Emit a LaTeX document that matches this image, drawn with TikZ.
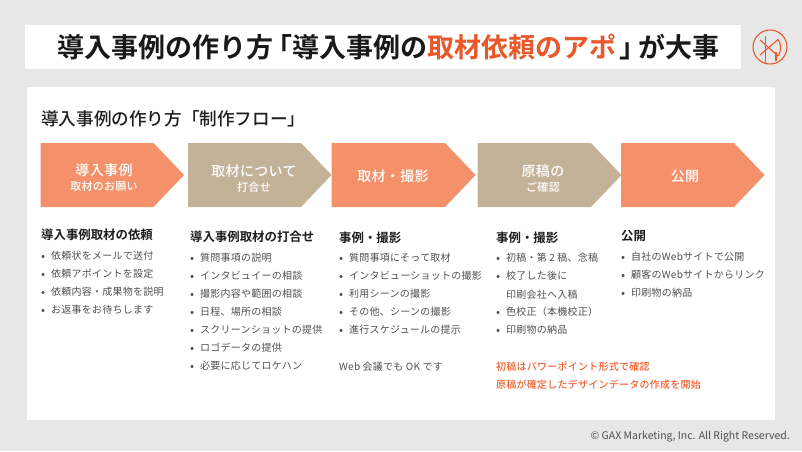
\documentclass[tikz,border=0pt]{standalone}
\usepackage{fontspec}
\setmainfont{Noto Sans CJK JP}
\newfontfamily\bodyf[LetterSpace=2.5]{Noto Sans CJK JP}
\newfontfamily\medf[LetterSpace=2.5]{Noto Sans CJK JP Medium}
\newfontfamily\medplain{Noto Sans CJK JP Medium}
\newfontfamily\headf[BoldFont=* Bold]{Noto Sans CJK JP}
\newcommand\bl{\makebox[10pt][l]{\smash{\raisebox{-0.8pt}{\fontsize{12}{12}\selectfont •}}}}
\definecolor{bgc}{HTML}{E7E7E7}
\definecolor{orA}{HTML}{F4906A}
\definecolor{tanA}{HTML}{C4B298}
\definecolor{ttlor}{HTML}{E9582A}
\definecolor{redt}{HTML}{F0622F}
\definecolor{bodyc}{HTML}{505050}
\tikzset{
  x=1pt,y=-1pt,
  txt/.style={anchor=west,inner sep=0pt,text=bodyc,font=\bodyf\fontsize{10}{12}\selectfont},
  hd/.style={anchor=west,inner sep=0pt,text=black!88,font=\headf\bfseries\fontsize{12.4}{14}\selectfont},
  red/.style={anchor=west,inner sep=0pt,text=redt,font=\medf\fontsize{10}{12}\selectfont},
  big/.style={inner sep=0pt,text=white,font=\medf\fontsize{14}{16}\selectfont},
  small/.style={inner sep=0pt,text=white,font=\medf\fontsize{11}{12}\selectfont},
  logo/.style={draw=ttlor,line width=1.1pt},
}
\newcommand\arrowbox[3]{\fill[#3] (#1,143) -- (#2,143) -- ({#2+30.5},175) -- (#2,207) -- (#1,207) -- cycle;}
\begin{document}
\begin{tikzpicture}
\useasboundingbox (0,0) rectangle (802,451);
\fill[bgc] (0,0) rectangle (802,451);
\fill[white] (25,25) rectangle (740.5,69);
\fill[white] (27,87) rectangle (775,420);

\node[anchor=west,inner sep=0pt,font=\headf\bfseries\fontsize{27}{30}\selectfont,text=black!90] (title) at (57,47.5)
  {導入事例の作り方\kern-7.5pt「導入事例の\textcolor{ttlor}{取材依頼のアポ}\kern3pt」\kern-8pt が大事};

% logo
\draw[logo] (770,47) circle (17);
\draw[logo] (765.5,36) -- (765.5,63.5);
\draw[logo] (776,52) -- (776,61);
\draw[logo] (760,40) -- (778,56);
\draw[logo] (760,55) -- (778,39.5);
\draw[logo] (778,39.5) .. controls (781.5,44) and (781.5,51) .. (778,56);

\node[anchor=west,inner sep=0pt,font=\medplain\fontsize{17.6}{20}\selectfont,text=black!88] (flow) at (41,119) {導入事例の作り方「制作フロー」};

\arrowbox{40.5}{153.5}{orA}
\arrowbox{188}{301}{tanA}
\arrowbox{331.6}{445}{orA}
\arrowbox{477.5}{591}{tanA}
\arrowbox{621}{734}{orA}

\node[big] (a1) at (104,170) {導入事例};
\node[small] (a1s) at (104,186) {取材のお願い};
\node[big] (a2) at (254,171) {取材について};
\node[small] (a2s) at (254,187) {打合せ};
\node[big] (a3) at (393,176) {取材・撮影};
\node[big] (a4) at (543,171) {原稿の};
\node[small] (a4s) at (543,187) {ご確認};
\node[big] (a5) at (685,176) {公開};

\node[hd] (h1) at (41,235) {導入事例取材の依頼};
\node[txt] (c1a) at (41,256) {\bl 依頼状をメールで送付};
\node[txt] (c1b) at (41,274) {\bl 依頼アポイントを設定};
\node[txt] (c1c) at (41,292) {\bl 依頼内容・成果物を説明};
\node[txt] (c1d) at (41,310) {\bl お返事をお待ちします};

\node[hd] (h2) at (190,237) {導入事例取材の打合せ};
\node[txt] (c2a) at (190,258) {\bl 質問事項の説明};
\node[txt] (c2b) at (190,276) {\bl インタビュイーの相談};
\node[txt] (c2c) at (190,294) {\bl 撮影内容や範囲の相談};
\node[txt] (c2d) at (190,312) {\bl 日程、場所の相談};
\node[txt] (c2e) at (190,330) {\bl スクリーンショットの提供};
\node[txt] (c2f) at (190,348) {\bl ロゴデータの提供};
\node[txt] (c2g) at (190,366) {\bl 必要に応じてロケハン};

\node[hd] (h3) at (339,238) {事例・撮影};
\node[txt] (c3a) at (339,258) {\bl 質問事項にそって取材};
\node[txt] (c3b) at (339,276) {\bl インタビューショットの撮影};
\node[txt] (c3c) at (339,294) {\bl 利用シーンの撮影};
\node[txt] (c3d) at (339,312) {\bl その他、シーンの撮影};
\node[txt] (c3e) at (339,330) {\bl 進行スケジュールの提示};
\node[txt] (c3f) at (339,367) {Web 会議でも OK です};

\node[hd] (h4) at (496,238) {事例・撮影};
\node[txt] (c4a) at (496,258) {\bl 初稿・第 2 稿、念稿};
\node[txt] (c4b) at (496,276) {\bl 校了した後に};
\node[txt] (c4c) at (506,295) {印刷会社へ入稿};
\node[txt] (c4d) at (496,312) {\bl 色校正（本機校正）};
\node[txt] (c4e) at (496,330) {\bl 印刷物の納品};
\node[red] (r1) at (496,367) {初稿はパワーポイント形式で確認};
\node[red] (r2) at (496,385) {原稿が確定したデザインデータの作成を開始};

\node[hd] (h5) at (621,236) {公開};
\node[txt] (c5a) at (621,257) {\bl 自社のWebサイトで公開};
\node[txt] (c5b) at (621,275) {\bl 顧客のWebサイトからリンク};
\node[txt] (c5c) at (621,293) {\bl 印刷物の納品};

\node[anchor=east,inner sep=0pt,text=bodyc,font=\fontsize{10.5}{12}\selectfont] (copy) at (790,437) {© GAX Marketing, Inc. All Right Reserved.};
\end{tikzpicture}
\end{document}
